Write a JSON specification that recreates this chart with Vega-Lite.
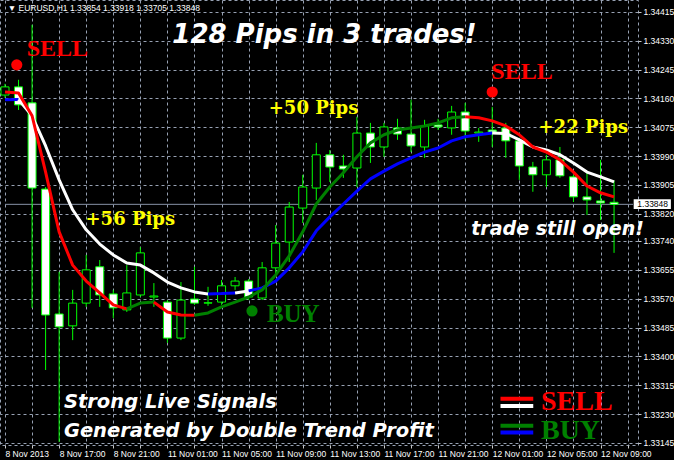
{
  "$schema": "https://vega.github.io/schema/vega-lite/v6.json",
  "width": 638,
  "height": 445,
  "autosize": "none",
  "padding": {"left": 0, "top": 0, "right": 36, "bottom": 15},
  "background": "#000000",
  "config": {
    "view": {"stroke": "#97a1b3", "strokeDash": [3, 3], "fill": "#000000"}
  },
  "datasets": {
    "candles": [
      {"i":0,"p":1.34170,"h":1.34203,"l":1.34162,"c":1.34194},
      {"i":1,"p":1.34194,"h":1.34215,"l":1.34126,"c":1.34141},
      {"i":2,"p":1.34147,"h":1.34377,"l":1.33543,"c":1.33896},
      {"i":3,"p":1.33893,"h":1.33899,"l":1.33360,"c":1.33522},
      {"i":4,"p":1.33525,"h":1.33649,"l":1.33148,"c":1.33487},
      {"i":5,"p":1.33490,"h":1.33596,"l":1.33448,"c":1.33557},
      {"i":6,"p":1.33557,"h":1.33699,"l":1.33546,"c":1.33655},
      {"i":7,"p":1.33664,"h":1.33684,"l":1.33546,"c":1.33581},
      {"i":8,"p":1.33584,"h":1.33596,"l":1.33513,"c":1.33543},
      {"i":9,"p":1.33537,"h":1.33669,"l":1.33531,"c":1.33587},
      {"i":10,"p":1.33581,"h":1.33722,"l":1.33575,"c":1.33705},
      {"i":11,"p":1.33575,"h":1.33616,"l":1.33546,"c":1.33578},
      {"i":12,"p":1.33560,"h":1.33566,"l":1.33440,"c":1.33454},
      {"i":13,"p":1.33454,"h":1.33619,"l":1.33448,"c":1.33566},
      {"i":14,"p":1.33569,"h":1.33664,"l":1.33552,"c":1.33557},
      {"i":15,"p":1.33557,"h":1.33605,"l":1.33549,"c":1.33558},
      {"i":16,"p":1.33560,"h":1.33625,"l":1.33552,"c":1.33608},
      {"i":17,"p":1.33608,"h":1.33634,"l":1.33596,"c":1.33622},
      {"i":18,"p":1.33622,"h":1.33628,"l":1.33566,"c":1.33575},
      {"i":19,"p":1.33572,"h":1.33678,"l":1.33566,"c":1.33661},
      {"i":20,"p":1.33661,"h":1.33787,"l":1.33640,"c":1.33734},
      {"i":21,"p":1.33737,"h":1.33855,"l":1.33678,"c":1.33840},
      {"i":22,"p":1.33837,"h":1.33935,"l":1.33793,"c":1.33899},
      {"i":23,"p":1.33896,"h":1.34029,"l":1.33861,"c":1.33994},
      {"i":24,"p":1.33994,"h":1.34008,"l":1.33914,"c":1.33958},
      {"i":25,"p":1.33961,"h":1.33994,"l":1.33926,"c":1.33952},
      {"i":26,"p":1.33955,"h":1.34106,"l":1.33899,"c":1.34058},
      {"i":27,"p":1.34058,"h":1.34088,"l":1.33970,"c":1.34017},
      {"i":28,"p":1.34017,"h":1.34088,"l":1.33988,"c":1.34076},
      {"i":29,"p":1.34073,"h":1.34100,"l":1.34038,"c":1.34055},
      {"i":30,"p":1.34055,"h":1.34156,"l":1.34002,"c":1.34020},
      {"i":31,"p":1.34017,"h":1.34097,"l":1.33985,"c":1.34079},
      {"i":32,"p":1.34082,"h":1.34100,"l":1.34067,"c":1.34076},
      {"i":33,"p":1.34073,"h":1.34138,"l":1.34053,"c":1.34120},
      {"i":34,"p":1.34120,"h":1.34147,"l":1.34038,"c":1.34064},
      {"i":35,"p":1.34058,"h":1.34073,"l":1.34032,"c":1.34061},
      {"i":36,"p":1.34067,"h":1.34135,"l":1.34017,"c":1.34061},
      {"i":37,"p":1.34073,"h":1.34088,"l":1.33985,"c":1.34035},
      {"i":38,"p":1.34035,"h":1.34044,"l":1.33920,"c":1.33961},
      {"i":39,"p":1.33958,"h":1.33973,"l":1.33885,"c":1.33935},
      {"i":40,"p":1.33935,"h":1.33994,"l":1.33899,"c":1.33979},
      {"i":41,"p":1.33979,"h":1.34017,"l":1.33926,"c":1.33932},
      {"i":42,"p":1.33929,"h":1.33935,"l":1.33855,"c":1.33870},
      {"i":43,"p":1.33870,"h":1.33941,"l":1.33817,"c":1.33861},
      {"i":44,"p":1.33858,"h":1.33979,"l":1.33802,"c":1.33852},
      {"i":45,"p":1.33854,"h":1.33918,"l":1.33705,"c":1.33848}
    ],
    "ma": [
      {"m":"f","g":"f1","i":0,"p":1.34179},{"m":"f","g":"f1","i":1,"p":1.34176},{"m":"f","g":"f1","i":2,"p":1.34109},
      {"m":"f","g":"f1","i":3,"p":1.33943},{"m":"f","g":"f1","i":4,"p":1.33767},{"m":"f","g":"f1","i":5,"p":1.33669},
      {"m":"f","g":"f1","i":6,"p":1.33622},{"m":"f","g":"f1","i":7,"p":1.33587},{"m":"f","g":"f1","i":8,"p":1.33552},
      {"m":"f","g":"f1","i":9,"p":1.33540},
      {"m":"f","g":"f2","i":9,"p":1.33540},{"m":"f","g":"f2","i":10,"p":1.33557},{"m":"f","g":"f2","i":11,"p":1.33560},
      {"m":"f","g":"f3","i":11,"p":1.33560},{"m":"f","g":"f3","i":12,"p":1.33531},{"m":"f","g":"f3","i":13,"p":1.33522},
      {"m":"f","g":"f3","i":14,"p":1.33521},
      {"m":"f","g":"f4","i":14,"p":1.33521},{"m":"f","g":"f4","i":15,"p":1.33528},{"m":"f","g":"f4","i":16,"p":1.33546},
      {"m":"f","g":"f4","i":17,"p":1.33560},{"m":"f","g":"f4","i":18,"p":1.33575},{"m":"f","g":"f4","i":19,"p":1.33596},
      {"m":"f","g":"f4","i":20,"p":1.33640},{"m":"f","g":"f4","i":21,"p":1.33696},{"m":"f","g":"f4","i":22,"p":1.33767},
      {"m":"f","g":"f4","i":23,"p":1.33849},{"m":"f","g":"f4","i":24,"p":1.33899},{"m":"f","g":"f4","i":25,"p":1.33941},
      {"m":"f","g":"f4","i":26,"p":1.33988},{"m":"f","g":"f4","i":27,"p":1.34029},{"m":"f","g":"f4","i":28,"p":1.34053},
      {"m":"f","g":"f4","i":29,"p":1.34067},{"m":"f","g":"f4","i":30,"p":1.34073},{"m":"f","g":"f4","i":31,"p":1.34079},
      {"m":"f","g":"f4","i":32,"p":1.34088},{"m":"f","g":"f4","i":33,"p":1.34103},{"m":"f","g":"f4","i":34,"p":1.34106},
      {"m":"f","g":"f5","i":34,"p":1.34106},{"m":"f","g":"f5","i":35,"p":1.34103},{"m":"f","g":"f5","i":36,"p":1.34094},
      {"m":"f","g":"f5","i":37,"p":1.34079},{"m":"f","g":"f5","i":38,"p":1.34053},{"m":"f","g":"f5","i":39,"p":1.34017},
      {"m":"f","g":"f5","i":40,"p":1.34002},{"m":"f","g":"f5","i":41,"p":1.33979},{"m":"f","g":"f5","i":42,"p":1.33943},
      {"m":"f","g":"f5","i":43,"p":1.33902},{"m":"f","g":"f5","i":44,"p":1.33882},{"m":"f","g":"f5","i":45,"p":1.33870},
      {"m":"s","g":"s1","i":0,"p":1.34156},{"m":"s","g":"s1","i":1,"p":1.34157},
      {"m":"s","g":"s2","i":1,"p":1.34157},{"m":"s","g":"s2","i":2,"p":1.34109},{"m":"s","g":"s2","i":3,"p":1.34020},
      {"m":"s","g":"s2","i":4,"p":1.33920},{"m":"s","g":"s2","i":5,"p":1.33832},{"m":"s","g":"s2","i":6,"p":1.33773},
      {"m":"s","g":"s2","i":7,"p":1.33731},{"m":"s","g":"s2","i":8,"p":1.33699},{"m":"s","g":"s2","i":9,"p":1.33675},
      {"m":"s","g":"s2","i":10,"p":1.33669},{"m":"s","g":"s2","i":11,"p":1.33646},{"m":"s","g":"s2","i":12,"p":1.33619},
      {"m":"s","g":"s2","i":13,"p":1.33602},{"m":"s","g":"s2","i":14,"p":1.33590},{"m":"s","g":"s2","i":15,"p":1.33584},
      {"m":"s","g":"s3","i":15,"p":1.33584},{"m":"s","g":"s3","i":16,"p":1.33585},{"m":"s","g":"s3","i":17,"p":1.33587},
      {"m":"s","g":"s4","i":17,"p":1.33587},{"m":"s","g":"s4","i":18,"p":1.33593},
      {"m":"s","g":"s5","i":18,"p":1.33593},{"m":"s","g":"s5","i":19,"p":1.33602},{"m":"s","g":"s5","i":20,"p":1.33622},
      {"m":"s","g":"s5","i":21,"p":1.33661},{"m":"s","g":"s5","i":22,"p":1.33708},{"m":"s","g":"s5","i":23,"p":1.33770},
      {"m":"s","g":"s5","i":24,"p":1.33811},{"m":"s","g":"s5","i":25,"p":1.33849},{"m":"s","g":"s5","i":26,"p":1.33887},
      {"m":"s","g":"s5","i":27,"p":1.33923},{"m":"s","g":"s5","i":28,"p":1.33946},{"m":"s","g":"s5","i":29,"p":1.33967},
      {"m":"s","g":"s5","i":30,"p":1.33985},{"m":"s","g":"s5","i":31,"p":1.34002},{"m":"s","g":"s5","i":32,"p":1.34014},
      {"m":"s","g":"s5","i":33,"p":1.34035},{"m":"s","g":"s5","i":34,"p":1.34047},{"m":"s","g":"s5","i":35,"p":1.34053},
      {"m":"s","g":"s5","i":36,"p":1.34058},
      {"m":"s","g":"s6","i":36,"p":1.34058},{"m":"s","g":"s6","i":37,"p":1.34057},{"m":"s","g":"s6","i":38,"p":1.34038},
      {"m":"s","g":"s6","i":39,"p":1.34017},{"m":"s","g":"s6","i":40,"p":1.34008},{"m":"s","g":"s6","i":41,"p":1.33994},
      {"m":"s","g":"s6","i":42,"p":1.33970},{"m":"s","g":"s6","i":43,"p":1.33943},{"m":"s","g":"s6","i":44,"p":1.33929},
      {"m":"s","g":"s6","i":45,"p":1.33914},
      {"m":"leg","g":"f1","i":36.61,"p":1.33275},
      {"m":"leg","g":"s2","i":36.61,"p":1.33254},
      {"m":"leg","g":"f2","i":36.61,"p":1.33196},
      {"m":"leg","g":"s1","i":36.61,"p":1.33176}
    ],
    "notes": [
      {"k":"bid","i":0,"p":1.33848,"t":""},
      {"k":"box","i":46.45,"p":1.33863,"t":""},
      {"k":"boxtext","i":46.72,"p":1.33848,"t":"1.33848"},
      {"k":"head","i":0.2,"p":1.34427,"t":"▼ EURUSD,H1  1.33854 1.33918 1.33705 1.33848"},
      {"k":"white","i":12.36,"p":1.34324,"t":"128 Pips in 3 trades!"},
      {"k":"white","i":34.45,"p":1.33758,"t":"trade still open!"},
      {"k":"white","i":4.35,"p":1.33248,"t":"Strong Live Signals"},
      {"k":"white","i":4.35,"p":1.33163,"t":"Generated by Double Trend Profit"},
      {"k":"sig","i":1.6,"p":1.34285,"t":"SELL"},
      {"k":"sig","i":35.93,"p":1.34218,"t":"SELL"},
      {"k":"sig","i":19.35,"p":1.33501,"t":"BUY"},
      {"k":"leg","i":39.6,"p":1.33242,"t":"SELL"},
      {"k":"leg","i":39.6,"p":1.33157,"t":"BUY"},
      {"k":"pips","i":19.49,"p":1.34114,"t":"+50 Pips"},
      {"k":"pips","i":39.42,"p":1.34058,"t":"+22 Pips"},
      {"k":"pips","i":5.95,"p":1.33787,"t":"+56 Pips"},
      {"k":"dot","i":0.87,"p":1.34259,"t":"SELL"},
      {"k":"dot","i":36.0,"p":1.34179,"t":"SELL"},
      {"k":"dot","i":18.25,"p":1.33534,"t":"BUY"}
    ]
  },
  "encoding": {
    "x": {
      "field": "i", "type": "quantitative",
      "scale": {"domain": [0, 46.4], "nice": false, "zero": false},
      "axis": {
        "title": null,
        "values": [0,2,4,6,8,10,12,14,16,18,20,22,24,26,28,30,32,34,36,38,40,42,44,46],
        "labelExpr": "datum.value % 4 == 0 ? ['8 Nov 2013','8 Nov 17:00','8 Nov 21:00','11 Nov 01:00','11 Nov 05:00','11 Nov 09:00','11 Nov 13:00','11 Nov 17:00','11 Nov 21:00','12 Nov 01:00','12 Nov 05:00','12 Nov 09:00'][datum.value / 4] : ''",
        "grid": true, "gridColor": "#97a1b3", "gridDash": [3, 3], "gridWidth": 1,
        "domain": false, "ticks": true, "tickColor": "#c8c8c8", "tickSize": 3,
        "labelColor": "#ffffff", "labelFont": "Liberation Sans", "labelFontSize": 8.5,
        "labelAlign": "left", "labelBaseline": "top", "labelPadding": 1,
        "labelFlush": false, "labelOverlap": false, "labelBound": false
      }
    },
    "y": {
      "field": "p", "type": "quantitative",
      "scale": {"domain": [1.33139, 1.3445], "nice": false, "zero": false},
      "axis": {
        "title": null, "orient": "right",
        "values": [1.33145,1.3323,1.33315,1.334,1.33485,1.3357,1.33655,1.3374,1.3382,1.33905,1.3399,1.34075,1.3416,1.34245,1.3433,1.34415],
        "format": ".5f",
        "grid": true, "gridColor": "#97a1b3", "gridDash": [3, 3], "gridWidth": 1,
        "domain": false, "ticks": true, "tickColor": "#c8c8c8", "tickSize": 3,
        "labelColor": "#ffffff", "labelFont": "Liberation Sans", "labelFontSize": 8.5,
        "labelAlign": "left", "labelBaseline": "middle", "labelPadding": 2,
        "labelOverlap": false, "labelBound": false, "labelFlush": false
      }
    }
  },
  "layer": [
    {
      "data": {"name": "notes"},
      "transform": [{"filter": "datum.k == 'bid'"}],
      "mark": {"type": "rule", "color": "#8792a6", "strokeWidth": 1},
      "encoding": {"x2": {"datum": 46.4}}
    },
    {
      "data": {"name": "candles"},
      "mark": {"type": "rule", "color": "#00ff00", "strokeWidth": 1},
      "encoding": {"y2": {"field": "h"}}
    },
    {
      "data": {"name": "candles"},
      "mark": {"type": "rule", "color": "#00ff00", "strokeWidth": 1},
      "encoding": {"y2": {"field": "l"}}
    },
    {
      "data": {"name": "candles"},
      "mark": {"type": "bar", "size": 8, "stroke": "#00ff00", "strokeWidth": 1},
      "encoding": {
        "y2": {"field": "c"},
        "fill": {"condition": {"test": "datum.c < datum.p", "value": "#ffffff"}, "value": "#000000"}
      }
    },
    {
      "data": {"name": "ma"},
      "transform": [{"filter": "datum.m == 's'"}],
      "mark": {"type": "line", "strokeWidth": 3, "strokeJoin": "round"},
      "encoding": {
        "color": {"field": "g", "type": "nominal", "legend": null,
          "scale": {"domain": ["f1","f2","f3","f4","f5","s1","s2","s3","s4","s5","s6"],
                    "range": ["#ff0000","#008000","#ff0000","#008000","#ff0000","#0000ff","#ffffff","#0000ff","#ffffff","#0000ff","#ffffff"]}}
      }
    },
    {
      "data": {"name": "ma"},
      "transform": [{"filter": "datum.m == 'f'"}],
      "mark": {"type": "line", "strokeWidth": 3, "strokeJoin": "round"},
      "encoding": {
        "color": {"field": "g", "type": "nominal", "legend": null}
      }
    },
    {
      "data": {"name": "notes"},
      "transform": [{"filter": "datum.k == 'box'"}],
      "mark": {"type": "rect", "fill": "#ffffff"},
      "encoding": {"x2": {"datum": 49.2}, "y2": {"datum": 1.33834}}
    },
    {
      "data": {"name": "notes"},
      "transform": [{"filter": "datum.k == 'boxtext' || datum.k == 'head'"}],
      "mark": {"type": "text", "font": "Liberation Sans", "fontSize": 8.5, "align": "left", "baseline": "alphabetic", "dy": 3},
      "encoding": {
        "text": {"field": "t"},
        "color": {"condition": {"test": "datum.k == 'boxtext'", "value": "#000000"}, "value": "#ffffff"}
      }
    },
    {
      "data": {"name": "notes"},
      "transform": [{"filter": "datum.k == 'white'"}],
      "mark": {"type": "text", "font": "DejaVu Sans", "fontStyle": "italic", "fontWeight": "bold", "color": "#ffffff", "align": "left", "baseline": "alphabetic"},
      "encoding": {
        "text": {"field": "t"},
        "size": {"condition": [{"test": "datum.t == '128 Pips in 3 trades!'", "value": 26}, {"test": "datum.t == 'trade still open!'", "value": 19}], "value": 19.5}
      }
    },
    {
      "data": {"name": "notes"},
      "transform": [{"filter": "datum.k == 'sig' || datum.k == 'leg'"}],
      "mark": {"type": "text", "font": "Liberation Serif", "fontWeight": "bold", "align": "left", "baseline": "alphabetic"},
      "encoding": {
        "text": {"field": "t"},
        "color": {"condition": {"test": "datum.t == 'BUY'", "value": "#008000"}, "value": "#ff0000"},
        "size": {"condition": [{"test": "datum.k == 'leg'", "value": 28}, {"test": "datum.t == 'BUY'", "value": 25}], "value": 24}
      }
    },
    {
      "data": {"name": "notes"},
      "transform": [{"filter": "datum.k == 'pips'"}],
      "mark": {"type": "text", "font": "DejaVu Serif", "fontWeight": "bold", "fontSize": 18, "color": "#ffff00", "align": "left", "baseline": "alphabetic"},
      "encoding": {"text": {"field": "t"}}
    },
    {
      "data": {"name": "notes"},
      "transform": [{"filter": "datum.k == 'dot'"}],
      "mark": {"type": "circle", "opacity": 1},
      "encoding": {
        "color": {"condition": {"test": "datum.t == 'BUY'", "value": "#008000"}, "value": "#ff0000"},
        "size": {"value": 125}
      }
    },
    {
      "data": {"name": "ma"},
      "transform": [{"filter": "datum.m == 'leg'"}],
      "mark": {"type": "rule", "strokeWidth": 4},
      "encoding": {
        "x2": {"datum": 39.03},
        "color": {"field": "g", "type": "nominal", "legend": null}
      }
    }
  ]
}
